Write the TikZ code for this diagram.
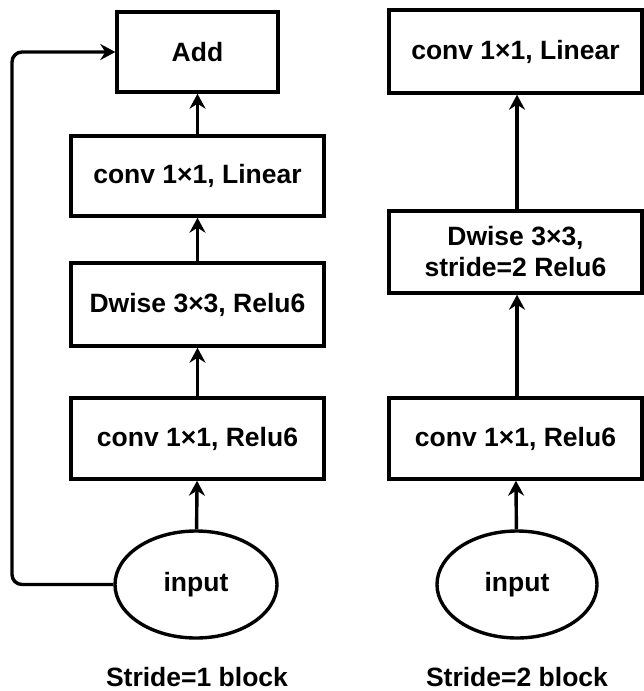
\documentclass[tikz,border=0pt]{standalone}
\usepackage{fontspec}
\setmainfont{Liberation Sans}
\usetikzlibrary{shapes.geometric,arrows.meta}
\begin{document}
\begin{tikzpicture}[x=1pt,y=-1pt,
  box/.style={draw,line width=3.4pt,rectangle,inner sep=0pt,align=center,font=\fontsize{26.5}{31}\selectfont\bfseries},
  oval/.style={draw,line width=3.4pt,ellipse,inner sep=0pt,font=\fontsize{26.5}{31}\selectfont\bfseries},
  captext/.style={inner sep=0pt,anchor=base,font=\fontsize{26.5}{31}\selectfont\bfseries},
  conn/.style={line width=3.4pt,-{Stealth[length=15pt,width=16pt,inset=5pt]}}]
\useasboundingbox (0,0) rectangle (643,691);
% left column
\node[box,minimum width=161pt,minimum height=80pt] (add) at (197.5,52) {Add};
\node[box,minimum width=253pt,minimum height=80pt] (lin1) at (197.5,176) {conv 1×1, Linear};
\node[box,minimum width=253pt,minimum height=83pt] (dw1) at (197.5,304.5) {Dwise 3×3, Relu6};
\node[box,minimum width=253pt,minimum height=81pt] (rel1) at (197.5,438.5) {conv 1×1, Relu6};
\node[oval,minimum width=162pt,minimum height=107pt] (in1) at (196,584.5) {input};
\node[captext] (c1) at (197,686) {Stride=1 block};
\coordinate (lb) at (12,584.5);
\coordinate (lt) at (12,52);
\draw[conn] (in1) -- (rel1);
\draw[conn] (rel1) -- (dw1);
\draw[conn] (dw1) -- (lin1);
\draw[conn] (lin1) -- (add);
\draw[conn,rounded corners=10pt] (in1.west) -- (lb) -- (lt) -- (add.west);
% right column
\node[box,minimum width=253pt,minimum height=83pt] (lin2) at (515.5,51.5) {conv 1×1, Linear};
\node[box,minimum width=253pt,minimum height=82pt] (dw2) at (515.5,252) {Dwise 3×3,\\stride=2 Relu6};
\node[box,minimum width=253pt,minimum height=81pt] (rel2) at (515.5,438.5) {conv 1×1, Relu6};
\node[oval,minimum width=160pt,minimum height=107pt] (in2) at (517,584.5) {input};
\node[captext] (c2) at (517,686) {Stride=2 block};
\draw[conn] (in2) -- (rel2);
\draw[conn] (rel2.north -| in2) -- (dw2.south -| in2);
\draw[conn] (dw2.north -| in2) -- (lin2.south -| in2);
\end{tikzpicture}
\end{document}
